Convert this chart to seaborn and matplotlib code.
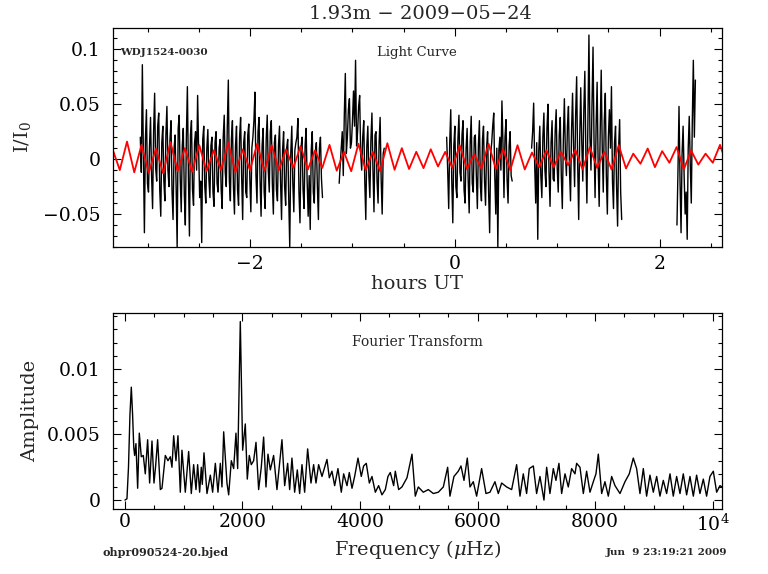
"""
Light curve and Fourier transform of WDJ1524-0030 (1.93m, 2009-05-24)
PGPLOT-like two-panel layout redrawn with seaborn
"""

import numpy as np
import pandas as pd
import matplotlib
matplotlib.use('Agg')
import matplotlib.pyplot as plt
import seaborn as sns
from matplotlib.ticker import MultipleLocator, FuncFormatter

# ---- light curve, I/I0 in units of 1e-3, one value every 0.01 h ----
seg_a_span = (-3.073, -1.293)
seg_a_flux = [20, -12, 86, 5, -67, 18, 45, -22, -30, 12, 38, -15, -45, 25, 60, -8, -20, 30, 42, -28,
              -52, 15, 30, -20, -38, 22, 48, -10, -25, 18, 35, -30, -55, 10, 22, -25, -80, 28, 40, -18,
              -48, 12, 28, -32, -60, 20, 66, -15, -70, 22, 35, -28, -42, 15, 25, -10, 58, 8, -35, -20,
              -76, 18, 30, -25, -40, 10, 27, -18, -35, 12, 20, -30, -43, 15, 25, -22, -30, 10, 18, -28,
              -45, 20, 40, -12, -25, 30, 72, -20, -38, 18, 35, -25, -50, 12, 30, -28, -42, 20, 38, -15,
              -55, 15, 25, -30, -35, 22, 32, -18, -48, 10, 20, 35, 61, -15, -40, 25, 38, -20, -52, 12,
              28, -30, -45, 18, 40, -10, -30, 25, 35, -22, -50, 15, 22, -28, -38, 12, 30, -20, -55, 8,
              25, -25, -42, 10, 18, -35, -80, 5, 30, -22, -48, 8, 15, 20, 37, -30, -58, 10, 20, -28,
              -45, 12, 28, -20, -52, -15, -64, 8, 25, -30, -40, 5, 15, -25, -55, 10, 20, -18, -35]
seg_b_span = (-1.13, -0.69)
seg_b_flux = [-22, -5, 10, 25, -15, 40, 78, 5, 20, 45, 55, 10, 15, 35, 62, 30, 90, 12, 25, 48,
              58, 5, -10, 20, 35, -20, -55, 12, 30, -15, -35, 18, 42, -10, -48, 22, 25, -20, -40, 15,
              38, -18, -50, 5, 10]
seg_c_span = (-0.08, 0.56)
seg_c_flux = [20, -10, -45, 15, 45, -20, -58, 12, 30, -25, -35, 18, 40, -12, -20, 22, 35, -28, -40, 10,
              28, -18, -49, 15, 39, -22, -30, 20, 22, -15, -45, 12, 35, -25, -38, 18, 30, -20, -42, 10,
              25, -30, -67, 5, 15, 30, 42, -15, -50, 10, -80, 8, 20, -10, 53, 15, -35, 20, 36, -18,
              -40, 12, 25, -15, -20]
seg_d_span = (0.75, 1.63)
seg_d_flux = [10, 25, 51, -5, -40, 15, -73, 8, 30, -15, -35, 20, 42, -10, -25, 28, 50, -12, -43, 15,
              35, -18, -20, 25, 45, -8, -30, 22, 38, -15, -45, 18, 55, 5, -15, 30, 48, -10, -38, 25,
              60, 10, -25, 40, 75, -5, -55, 20, 65, 15, -20, 45, 80, 5, -40, 35, 113, 20, -10, 50,
              102, 15, -35, 30, 70, -5, -43, 25, 81, 10, -30, 35, 60, -15, -50, 20, 45, 10, 66, -20,
              -45, 15, 30, -25, -61, 10, 36, -30, -55]
seg_e_span = (2.17, 2.35)
seg_e_flux = [-60, -10, 48, -20, -67, 5, 30, -15, -50, -30, -73, 10, 39, -5, -40, 35, 90, 20, 72]

# ---- fitted sinusoid: extrema (units of 1e-3), alternating peak/trough ----
fit_start = -3.344         # hours, first peak
fit_half_period = 0.07065  # hours between extrema
fit_peaks = [9, 16, 13, 9.7, 15.7, 10, 12.7, 8, 14.8, 8.8,
             14, 12.7, 8.8, 12, 8, 13, 6.6, 14, 6.6, 14.5,
             10, 6.7, 9, 6.6, 12.7, 4.5, 14, 9, 12.7, 6,
             8, 6.7, 8.5, 11, 6.7, 12.7, 5, 9.7, 7.3, 11,
             8, 5, 13]
fit_troughs = [-10, -12, -12.5, -13, -11, -11.5, -11, -10, -12, -10,
               -11, -10, -8, -9.5, -8, -10.5, -11, -10, -11, -9.7,
               -9, -8.2, -6.7, -8, -9, -8.5, -9, -10, -9.4, -7.3,
               -7.3, -5.5, -9.4, -8, -9.4, -8.5, -4.2, -7.3, -3.3, -9.4,
               -5, -3.3, -6]

# ---- Fourier transform: frequency (uHz) and amplitude (units of 1e-3) ----
ft_freq = [0, 34, 60, 85, 108, 130, 150, 165, 187, 216,
           244, 278, 312, 346, 386, 420, 460, 494, 522, 556,
           602, 630, 687, 732, 772, 800, 829, 868, 902, 942,
           970, 1027, 1084, 1129, 1169, 1209, 1237, 1271, 1299, 1316,
           1345, 1396, 1453, 1492, 1538, 1583, 1623, 1651, 1680, 1736,
           1765, 1810, 1850, 1889, 1918, 1963, 2003, 2048, 2082, 2116,
           2150, 2190, 2230, 2275, 2320, 2360, 2400, 2434, 2474, 2530,
           2587, 2672, 2718, 2769, 2803, 2842, 2888, 2933, 2973, 3013,
           3058, 3109, 3166, 3211, 3251, 3296, 3353, 3438, 3478, 3523,
           3569, 3625, 3682, 3722, 3779, 3818, 3864, 3909, 3966, 4022,
           4062, 4107, 4159, 4204, 4261, 4317, 4374, 4431, 4476, 4516,
           4573, 4601, 4658, 4714, 4800, 4885, 4941, 4992, 5077, 5163,
           5248, 5333, 5418, 5492, 5531, 5599, 5673, 5719, 5770, 5826,
           5872, 5928, 5985, 6070, 6144, 6212, 6297, 6354, 6411, 6496,
           6581, 6666, 6723, 6779, 6836, 6881, 6950, 7006, 7063, 7131,
           7177, 7233, 7290, 7335, 7386, 7432, 7489, 7545, 7602, 7659,
           7687, 7744, 7801, 7857, 7914, 7971, 8016, 8056, 8113, 8169,
           8226, 8283, 8340, 8425, 8510, 8583, 8651, 8708, 8765, 8822,
           8878, 8935, 8992, 9049, 9105, 9162, 9219, 9276, 9332, 9389,
           9446, 9502, 9559, 9616, 9673, 9729, 9786, 9843, 9899, 9956,
           10013, 10070, 10127, 10161]
ft_amp = [0, 0.1, 2.5, 6.5, 8.6, 6.5, 4.0, 3.4, 4.3, 0.9,
          5.1, 3.3, 3.4, 2.0, 4.6, 1.3, 4.5, 1.3, 2.6, 4.6,
          0.8, 0.9, 3.4, 3.0, 3.3, 2.5, 4.9, 3.0, 4.9, 0.6,
          3.8, 0.6, 3.7, 0.5, 2.7, 0.8, 2.7, 0.6, 2.5, 1.2,
          3.6, 0.5, 1.9, 0.6, 2.8, 0.6, 2.8, 1.0, 5.2, 1.3,
          0.4, 3.0, 2.4, 5.1, 2.4, 13.6, 3.8, 5.8, 1.6, 3.4,
          2.7, 3.0, 4.4, 0.8, 2.5, 4.8, 1.0, 3.5, 2.3, 3.4,
          0.8, 4.6, 1.1, 2.8, 0.8, 3.2, 0.6, 2.3, 0.5, 2.7,
          0.6, 3.9, 1.3, 2.7, 1.3, 2.7, 1.8, 3.1, 1.7, 2.2,
          1.1, 2.4, 0.6, 2.0, 1.1, 2.1, 0.9, 1.8, 3.2, 1.8,
          2.6, 2.8, 1.3, 1.8, 0.6, 1.1, 0.4, 0.8, 1.8, 2.1,
          1.1, 2.2, 0.8, 1.0, 1.7, 3.5, 0.3, 1.0, 0.6, 0.8,
          0.5, 0.6, 1.0, 2.5, 0.3, 1.8, 2.2, 2.6, 1.5, 3.2,
          1.0, 1.4, 0.3, 2.4, 0.5, 0.6, 1.4, 0.5, 1.3, 1.0,
          0.8, 2.7, 0.3, 2.0, 0.5, 2.4, 2.6, 0.5, 1.8, 0.0,
          2.5, 0.5, 2.4, 1.5, 2.8, 0.5, 2.0, 1.0, 2.4, 2.0,
          2.8, 2.5, 0.5, 2.2, 0.6, 1.4, 2.0, 3.5, 0.5, 1.4,
          0.3, 1.8, 1.1, 0.5, 1.4, 2.0, 3.2, 2.4, 0.5, 2.4,
          0.3, 1.9, 0.6, 1.8, 0.3, 1.5, 0.5, 2.0, 0.3, 1.8,
          0.5, 2.0, 0.4, 1.8, 0.3, 1.9, 0.5, 1.6, 0.3, 1.8,
          2.2, 0.6, 1.1, 1.0]


def build_light_curve():
    """Stack the observing runs into one long table with a segment id"""
    frames = []
    segs = [(seg_a_span, seg_a_flux), (seg_b_span, seg_b_flux),
            (seg_c_span, seg_c_flux), (seg_d_span, seg_d_flux),
            (seg_e_span, seg_e_flux)]
    for i, (span, flux) in enumerate(segs):
        t = np.linspace(span[0], span[1], len(flux))
        frames.append(pd.DataFrame({'hours': t,
                                    'flux': np.array(flux) / 1000.0,
                                    'seg': i}))
    return pd.concat(frames, ignore_index=True)


def build_fit():
    vals = []
    for p, tr in zip(fit_peaks, fit_troughs):
        vals.extend([p, tr])
    t = fit_start + fit_half_period * np.arange(len(vals))
    return pd.DataFrame({'hours': t, 'flux': np.array(vals) / 1000.0})


def style_axis(ax):
    ax.tick_params(which='both', direction='in', top=True, right=True,
                   width=0.8, colors='black')
    ax.tick_params(which='major', length=5.8)
    ax.tick_params(which='minor', length=2.9)
    ax.tick_params(axis='y', pad=9, labelsize=13.5)
    for s in ax.spines.values():
        s.set_linewidth(0.9)
        s.set_color('black')


def fmt_g(v, pos):
    s = '%g' % round(v, 6)
    return s.replace('-', '\u2212')


def fmt_freq(v, pos):
    if abs(v - 10000) < 1:
        return '$10^4$'
    return '%d' % v


sns.set_style("ticks")
plt.rcParams['font.family'] = ['DejaVu Serif']
plt.rcParams['mathtext.fontset'] = 'dejavuserif'

lc = build_light_curve()
fit = build_fit()
ft = pd.DataFrame({'freq': ft_freq, 'amp': np.array(ft_amp) / 1000.0})

fig = plt.figure(figsize=(7.68, 5.74), dpi=100)
ax1 = fig.add_axes([0.1471, 0.5697, 0.7930, 0.3815])
ax2 = fig.add_axes([0.1471, 0.1132, 0.7930, 0.3415])

# Light curve panel
sns.lineplot(data=lc, x='hours', y='flux', units='seg', estimator=None,
             color='black', lw=1.0, ax=ax1)
sns.lineplot(data=fit, x='hours', y='flux', estimator=None, sort=False,
             color='#ff0000', lw=1.3, solid_joinstyle='round', ax=ax1)
ax1.set_xlim(-3.34, 2.61)
ax1.set_ylim(-0.08, 0.1194)
ax1.xaxis.set_major_locator(MultipleLocator(2))
ax1.xaxis.set_minor_locator(MultipleLocator(0.5))
ax1.yaxis.set_major_locator(MultipleLocator(0.05))
ax1.yaxis.set_minor_locator(MultipleLocator(0.01))
ax1.xaxis.set_major_formatter(FuncFormatter(fmt_g))
ax1.yaxis.set_major_formatter(FuncFormatter(fmt_g))
style_axis(ax1)
ax1.tick_params(axis='x', pad=6, labelsize=13.5)
ax1.set_xlabel('hours UT', fontsize=14)
ax1.set_ylabel('I/I$_0$', fontsize=14)
ax1.xaxis.set_label_coords(0.5, -0.17)
ax1.yaxis.set_label_coords(-0.149, 0.5)
ax1.xaxis.label.set_va('center')
ax1.yaxis.label.set_va('center')
ax1.text(0.505, 1.064, '1.93m \u2212 2009\u221205\u221224', transform=ax1.transAxes,
         ha='center', va='center', fontsize=14)
ax1.text(0.0115, 0.89, 'WDJ1524-0030', transform=ax1.transAxes,
         ha='left', va='center', fontsize=7.5, fontweight='bold')
ax1.text(0.4335, 0.89, 'Light Curve', transform=ax1.transAxes,
         ha='left', va='center', fontsize=9.5)

# Fourier transform panel
sns.lineplot(data=ft, x='freq', y='amp', estimator=None, sort=False,
             color='black', lw=1.0, ax=ax2)
ax2.set_xlim(-204, 10161)
ax2.set_ylim(-0.00068, 0.01425)
ax2.xaxis.set_major_locator(MultipleLocator(2000))
ax2.xaxis.set_minor_locator(MultipleLocator(500))
ax2.yaxis.set_major_locator(MultipleLocator(0.005))
ax2.yaxis.set_minor_locator(MultipleLocator(0.001))
ax2.xaxis.set_major_formatter(FuncFormatter(fmt_freq))
ax2.yaxis.set_major_formatter(FuncFormatter(fmt_g))
style_axis(ax2)
ax2.tick_params(axis='x', pad=3, labelsize=13.5)
ax2.set_xlabel('Frequency ($\\mu$Hz)', fontsize=14)
ax2.set_ylabel('Amplitude', fontsize=14)
ax2.xaxis.set_label_coords(0.5, -0.204)
ax2.yaxis.set_label_coords(-0.136, 0.5)
ax2.xaxis.label.set_va('center')
ax2.yaxis.label.set_va('center')
ax2.text(0.392, 0.854, 'Fourier Transform', transform=ax2.transAxes,
         ha='left', va='center', fontsize=10)

fig.text(0.133, 0.0383, 'ohpr090524-20.bjed', ha='left', va='center',
         fontsize=8, fontweight='bold')
fig.text(0.789, 0.0383, 'Jun  9 23:19:21 2009', ha='left', va='center',
         fontsize=7.5, fontweight='bold')

fig.savefig('out.png', dpi=100)
plt.close(fig)
